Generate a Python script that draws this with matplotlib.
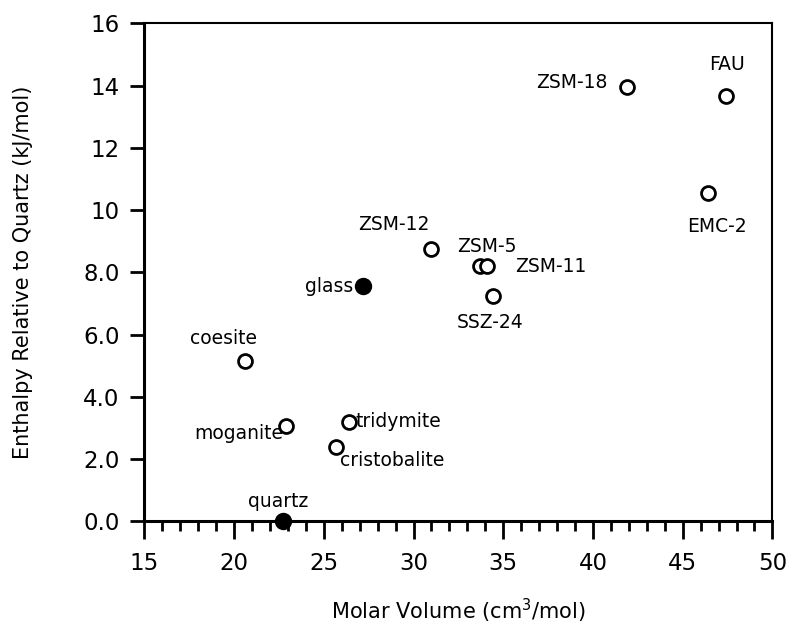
import matplotlib
matplotlib.use("Agg")
import matplotlib.pyplot as plt
from matplotlib.ticker import MultipleLocator

# molar volume (cm3/mol) and enthalpy relative to quartz (kJ/mol)
names = ['quartz', 'glass', 'coesite', 'moganite', 'tridymite', 'cristobalite',
         'ZSM-12', 'ZSM-5', 'ZSM-11', 'SSZ-24', 'ZSM-18', 'FAU', 'EMC-2']
volume = [22.7, 27.2, 20.6, 22.9, 26.4, 25.7, 31.0, 33.7, 34.1, 34.4, 41.9, 47.4, 46.4]
enthalpy = [0.0, 7.55, 5.15, 3.05, 3.2, 2.4, 8.75, 8.2, 8.2, 7.25, 13.95, 13.65, 10.55]
filled = [True, True] + [False] * 11

# label placement: offset in pixels from the point, horizontal alignment
label_pos = {
    'quartz': (-4, 20, 'center'),
    'glass': (-10, 0, 'right'),
    'coesite': (-21, 22, 'center'),
    'moganite': (-3, -7, 'right'),
    'tridymite': (7, 0, 'left'),
    'cristobalite': (4, -14, 'left'),
    'ZSM-12': (-2, 24, 'right'),
    'ZSM-5': (7, 20, 'center'),
    'ZSM-11': (28, 0, 'left'),
    'SSZ-24': (-2, -27, 'center'),
    'ZSM-18': (-20, 5, 'right'),
    'FAU': (1, 32, 'center'),
    'EMC-2': (9, -34, 'center'),
}

plt.rcParams['font.family'] = ['DejaVu Sans']

fig = plt.figure(figsize=(7.89, 6.31), dpi=100)
ax = fig.add_axes([0.183, 0.174, 0.796, 0.789])

for x, y, f in zip(volume, enthalpy, filled):
    if f:
        ax.plot(x, y, 'o', color='black', markersize=11.5, clip_on=False, zorder=3)
    else:
        ax.plot(x, y, 'o', markerfacecolor='white', markeredgecolor='black',
                markersize=10, markeredgewidth=2, clip_on=False, zorder=3)

for n, x, y in zip(names, volume, enthalpy):
    dx, dy, ha = label_pos[n]
    ax.annotate(n, (x, y), xytext=(dx, dy), textcoords='offset pixels',
                ha=ha, va='center', fontsize=13.5)

ax.set_xlim(15, 50)
ax.set_ylim(0, 16)
ax.xaxis.set_major_locator(MultipleLocator(5))
ax.xaxis.set_minor_locator(MultipleLocator(1))
ax.set_yticks(range(0, 17, 2))
ax.set_yticklabels(['0.0', '2.0', '4.0', '6.0', '8.0', '10', '12', '14', '16'])

ax.tick_params(axis='both', which='major', direction='out', length=13, width=2,
               labelsize=16.5, pad=9)
ax.tick_params(axis='x', which='minor', direction='out', length=7, width=2)
ax.tick_params(axis='y', which='major', length=10, pad=8)

ax.spines['left'].set_linewidth(2.2)
ax.spines['bottom'].set_linewidth(2.2)
ax.spines['top'].set_linewidth(1.5)
ax.spines['right'].set_linewidth(1.5)

ax.set_xlabel('Molar Volume (cm$^3$/mol)', fontsize=15, labelpad=16)
ax.set_ylabel('Enthalpy Relative to Quartz (kJ/mol)', fontsize=15, labelpad=36)

fig.savefig('out.png', dpi=100)
